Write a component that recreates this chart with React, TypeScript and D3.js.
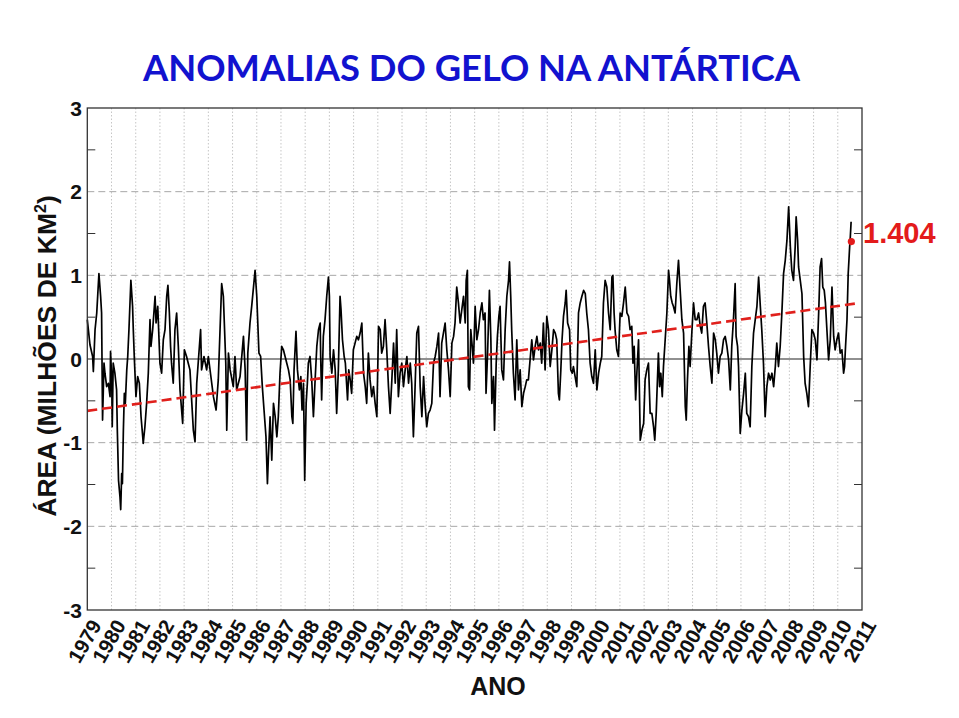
import * as d3 from "d3";

// leituras aproximadas da figura: [ano decimal, anomalia em milhões de km²]
const gelo1979a1986: [number, number][] = [
  [1979.0, 0.47], [1979.11, 0.17], [1979.22, 0.03], [1979.25, -0.15], [1979.32, 0.35], [1979.39, 0.55],
  [1979.48, 1.02], [1979.55, 0.75], [1979.59, 0.55], [1979.63, -0.73], [1979.69, -0.05], [1979.73, -0.17],
  [1979.8, -0.33], [1979.87, -0.29], [1979.94, -0.45], [1979.96, 0.09], [1980.01, -0.25], [1980.03, -0.81],
  [1980.07, -0.05], [1980.14, -0.17], [1980.21, -0.37], [1980.24, -0.85], [1980.29, -1.45], [1980.35, -1.65],
  [1980.38, -1.8], [1980.42, -1.37], [1980.45, -1.49], [1980.49, -0.85], [1980.53, -0.41], [1980.57, -0.53],
  [1980.63, -0.13], [1980.67, 0.03], [1980.72, 0.35], [1980.8, 0.94], [1980.87, 0.63], [1980.9, 0.35],
  [1980.94, 0.03], [1981.01, -0.45], [1981.08, -0.21], [1981.15, -0.29], [1981.22, -0.69], [1981.29, -0.93],
  [1981.31, -1.01], [1981.38, -0.81], [1981.45, -0.53], [1981.52, -0.17], [1981.59, 0.47], [1981.63, 0.15],
  [1981.7, 0.35], [1981.8, 0.75], [1981.84, 0.43], [1981.91, 0.63], [1982.0, -0.05], [1982.07, -0.17],
  [1982.14, 0.23], [1982.21, 0.35], [1982.28, 0.75], [1982.33, 0.88], [1982.39, 0.55], [1982.44, 0.15],
  [1982.48, -0.05], [1982.55, -0.29], [1982.62, 0.35], [1982.69, 0.55], [1982.76, 0.15], [1982.83, -0.37],
  [1982.94, -0.77], [1983.01, 0.11], [1983.1, 0.03], [1983.17, -0.05], [1983.24, -0.13], [1983.38, -0.85],
  [1983.45, -0.99], [1983.52, -0.29], [1983.68, 0.35], [1983.72, -0.13], [1983.82, 0.03], [1983.93, -0.13],
  [1984.0, 0.03], [1984.14, -0.29], [1984.21, -0.45], [1984.32, -0.61], [1984.41, -0.25], [1984.55, 0.9],
  [1984.62, 0.75], [1984.72, -0.05], [1984.76, -0.85], [1984.83, 0.07], [1984.9, -0.13], [1985.03, -0.33],
  [1985.1, 0.03], [1985.17, -0.37], [1985.31, -0.21], [1985.45, 0.27], [1985.52, -0.13], [1985.58, -0.97],
  [1985.63, 0.07], [1985.72, 0.43], [1985.79, 0.63], [1985.93, 1.06], [1986.0, 0.75], [1986.09, 0.07],
  [1986.16, 0.03], [1986.23, -0.33], [1986.3, -0.61], [1986.38, -0.93], [1986.44, -1.49], [1986.48, -1.17],
  [1986.55, -0.69],
];

const gelo1986a1994: [number, number][] = [
  [1986.62, -1.21], [1986.69, -0.53], [1986.76, -0.69], [1986.83, -0.93], [1986.89, -0.69], [1986.96, -0.17],
  [1987.03, 0.15], [1987.1, 0.11], [1987.17, 0.03], [1987.24, -0.05], [1987.31, -0.13], [1987.38, -0.25],
  [1987.45, -0.69], [1987.49, -0.77], [1987.54, -0.13], [1987.62, 0.33], [1987.68, -0.13], [1987.76, -0.37],
  [1987.82, -0.21], [1987.87, -0.61], [1987.93, -0.29], [1987.98, -1.45], [1988.04, -0.53], [1988.09, -0.29],
  [1988.13, -0.05], [1988.2, 0.03], [1988.27, -0.25], [1988.34, -0.69], [1988.41, -0.25], [1988.48, 0.15],
  [1988.55, 0.35], [1988.62, 0.43], [1988.64, 0.03], [1988.68, -0.49], [1988.75, 0.27], [1988.82, 0.47],
  [1988.89, 0.75], [1988.96, 0.98], [1989.0, 0.75], [1989.03, 0.03], [1989.1, -0.17], [1989.17, 0.11],
  [1989.24, -0.13], [1989.3, -0.65], [1989.37, -0.13], [1989.44, 0.75], [1989.48, 0.59], [1989.54, 0.23],
  [1989.61, 0.03], [1989.66, -0.05], [1989.75, -0.49], [1989.8, -0.13], [1989.86, -0.25], [1989.92, -0.41],
  [1989.99, 0.11], [1990.06, 0.19], [1990.13, 0.27], [1990.2, 0.23], [1990.27, 0.31], [1990.34, 0.43],
  [1990.41, -0.17], [1990.48, -0.33], [1990.54, -0.53], [1990.61, 0.07], [1990.68, -0.25], [1990.75, -0.45],
  [1990.82, -0.33], [1990.89, -0.53], [1990.96, -0.69], [1991.03, 0.39], [1991.1, 0.35], [1991.16, 0.07],
  [1991.23, 0.15], [1991.3, 0.47], [1991.37, 0.11], [1991.44, -0.33], [1991.51, -0.65], [1991.58, -0.25],
  [1991.65, 0.19], [1991.72, -0.29], [1991.78, 0.35], [1991.85, -0.45], [1991.92, -0.17], [1991.99, -0.05],
  [1992.06, -0.33], [1992.13, -0.13], [1992.2, 0.03], [1992.27, -0.29], [1992.34, -0.05], [1992.4, -0.29],
  [1992.47, -0.93], [1992.54, -0.33], [1992.61, 0.31], [1992.68, 0.39], [1992.75, -0.33], [1992.82, -0.69],
  [1992.89, -0.21], [1992.95, -0.53], [1993.02, -0.81], [1993.09, -0.65], [1993.16, -0.61], [1993.23, -0.53],
  [1993.3, -0.05], [1993.37, 0.03], [1993.44, 0.15], [1993.51, 0.31], [1993.57, -0.45], [1993.64, 0.19],
  [1993.71, 0.31], [1993.78, 0.43], [1993.85, 0.11], [1993.92, -0.13], [1993.99, -0.45], [1994.06, 0.19],
  [1994.13, 0.27], [1994.19, 0.43], [1994.26, 0.86], [1994.33, 0.67], [1994.4, 0.43],
];

const gelo1994a2002: [number, number][] = [
  [1994.47, 0.59], [1994.54, 0.75], [1994.61, 0.43], [1994.65, 0.94], [1994.7, 1.06], [1994.74, -0.33],
  [1994.79, -0.37], [1994.84, 0.35], [1994.9, 0.15], [1994.95, -0.05], [1995.02, 0.63], [1995.09, 0.23],
  [1995.16, 0.35], [1995.23, 0.55], [1995.3, 0.67], [1995.36, 0.47], [1995.43, 0.55], [1995.47, -0.41],
  [1995.53, 0.03], [1995.61, 0.82], [1995.67, 0.23], [1995.71, -0.53], [1995.78, -0.21], [1995.82, -0.85],
  [1995.89, -0.05], [1995.94, 0.27], [1996.0, 0.51], [1996.05, 0.63], [1996.12, -0.13], [1996.19, -0.25],
  [1996.26, 0.35], [1996.33, 0.75], [1996.4, 0.94], [1996.44, 1.16], [1996.49, 0.75], [1996.53, 0.35],
  [1996.6, -0.17], [1996.67, -0.49], [1996.74, 0.23], [1996.81, -0.37], [1996.88, -0.13], [1996.95, -0.57],
  [1997.02, -0.41], [1997.09, -0.33], [1997.15, -0.25], [1997.22, -0.25], [1997.29, -0.01], [1997.36, 0.23],
  [1997.43, -0.01], [1997.5, 0.15], [1997.57, 0.27], [1997.64, 0.11], [1997.71, 0.19], [1997.77, -0.05],
  [1997.84, 0.43], [1997.91, -0.13], [1997.98, 0.51], [1998.05, 0.35], [1998.12, -0.09], [1998.19, 0.11],
  [1998.26, 0.35], [1998.33, 0.31], [1998.39, 0.23], [1998.46, -0.41], [1998.5, -0.49], [1998.56, -0.13],
  [1998.61, 0.23], [1998.67, 0.51], [1998.74, 0.67], [1998.78, 0.82], [1998.84, 0.43], [1998.92, 0.35],
  [1998.97, -0.13], [1999.03, -0.17], [1999.08, -0.09], [1999.15, -0.21], [1999.22, -0.33], [1999.29, 0.55],
  [1999.36, 0.67], [1999.43, 0.75], [1999.5, 0.82], [1999.57, 0.78], [1999.63, 0.55], [1999.7, 0.35],
  [1999.77, -0.05], [1999.84, -0.21], [1999.91, -0.29], [1999.98, 0.11], [2000.05, -0.37], [2000.12, -0.17],
  [2000.19, -0.05], [2000.25, 0.03], [2000.32, 0.67], [2000.39, 0.94], [2000.46, 0.86], [2000.53, 0.55],
  [2000.6, 0.35], [2000.67, 0.98], [2000.71, 1.0], [2000.76, 0.55], [2000.8, 0.35], [2000.87, 0.11],
  [2000.94, 0.03], [2001.01, 0.55], [2001.08, 0.51], [2001.15, 0.67], [2001.22, 0.86], [2001.29, 0.55],
  [2001.36, 0.51], [2001.42, 0.35], [2001.49, 0.39], [2001.54, -0.05], [2001.59, 0.15], [2001.65, -0.49],
  [2001.7, -0.17], [2001.77, 0.23], [2001.84, -0.97], [2001.91, -0.85], [2001.98, -0.77], [2002.04, -0.25],
  [2002.11, -0.13], [2002.18, -0.05], [2002.25, -0.65],
];

const gelo2002a2010: [number, number][] = [
  [2002.32, -0.65], [2002.39, -0.81], [2002.44, -0.97], [2002.5, -0.65], [2002.55, -0.25], [2002.59, 0.07],
  [2002.64, -0.33], [2002.69, -0.17], [2002.75, -0.45], [2002.8, -0.09], [2002.87, 0.23], [2002.94, 0.55],
  [2003.01, 1.06], [2003.05, 0.94], [2003.1, 0.75], [2003.16, 0.67], [2003.21, 0.63], [2003.28, 0.55],
  [2003.35, 0.9], [2003.42, 1.18], [2003.49, 0.82], [2003.56, 0.47], [2003.63, 0.31], [2003.7, -0.57],
  [2003.74, -0.73], [2003.79, -0.25], [2003.85, 0.15], [2003.9, -0.09], [2003.97, 0.31], [2004.04, 0.67],
  [2004.11, 0.47], [2004.18, 0.47], [2004.25, 0.55], [2004.32, 0.39], [2004.38, 0.31], [2004.45, 0.63],
  [2004.52, 0.67], [2004.59, 0.43], [2004.66, 0.15], [2004.73, -0.09], [2004.8, -0.29], [2004.87, 0.31],
  [2004.94, 0.23], [2005.0, 0.07], [2005.07, -0.17], [2005.14, 0.03], [2005.21, 0.07], [2005.28, 0.23],
  [2005.35, 0.27], [2005.42, 0.15], [2005.49, -0.01], [2005.56, -0.37], [2005.62, 0.15], [2005.69, 0.47],
  [2005.76, 0.9], [2005.8, 0.27], [2005.86, 0.15], [2005.9, -0.09], [2005.97, -0.89], [2006.04, -0.61],
  [2006.11, -0.41], [2006.18, -0.17], [2006.24, -0.65], [2006.31, -0.69], [2006.38, -0.81], [2006.45, -0.09],
  [2006.52, 0.31], [2006.59, 0.47], [2006.66, 0.63], [2006.73, 0.98], [2006.8, 0.63], [2006.86, 0.35],
  [2006.93, -0.05], [2007.0, -0.69], [2007.07, -0.33], [2007.14, -0.17], [2007.21, -0.25], [2007.28, -0.17],
  [2007.35, -0.33], [2007.42, -0.09], [2007.48, 0.19], [2007.55, -0.09], [2007.62, 0.15], [2007.69, 0.55],
  [2007.76, 1.02], [2007.83, 1.18], [2007.9, 1.42], [2007.97, 1.82], [2008.04, 1.34], [2008.1, 1.06],
  [2008.17, 0.94], [2008.24, 1.34], [2008.28, 1.7], [2008.34, 1.42], [2008.38, 1.1], [2008.45, 0.94],
  [2008.52, 0.78], [2008.59, 0.03], [2008.65, -0.29], [2008.72, -0.41], [2008.79, -0.57], [2008.86, -0.09],
  [2008.93, 0.35], [2009.0, 0.31], [2009.07, 0.23], [2009.14, -0.01], [2009.21, 0.55], [2009.27, 1.1],
  [2009.33, 1.2], [2009.38, 0.86], [2009.44, 0.82], [2009.49, 0.67], [2009.55, 0.35], [2009.62, -0.01],
  [2009.69, 0.23], [2009.76, 0.86], [2009.83, 0.27], [2009.89, 0.11], [2009.96, 0.23], [2010.03, 0.31],
  [2010.1, 0.07], [2010.17, 0.11], [2010.24, -0.17], [2010.28, -0.09], [2010.32, 0.15], [2010.38, 0.47],
  [2010.43, 1.02], [2010.49, 1.34], [2010.51, 1.42], [2010.55, 1.64],
];

const tendenciaAnos = [1979, 2010.9];
const tendenciaValores = [-0.62, 0.67];

const destaqueAno = 2010.56;
const destaqueValor = 1.404;

const anos = d3.range(1979, 2012);
const yTicks = [3, 2, 1, 0, -1, -2, -3];
const yMinor = [2.5, 1.5, 0.5, -0.5, -1.5, -2.5];

const W = 959;
const H = 718;
const plot = { left: 87.3, right: 862, top: 108, bottom: 610 };
const AXIS_FONT = "'Liberation Sans', Arial, sans-serif";

export default function App() {
  const x = d3.scaleLinear().domain([1979, 2011]).range([plot.left, plot.right]);
  const y = d3.scaleLinear().domain([-3, 3]).range([plot.bottom, plot.top]);

  const serie = [...gelo1979a1986, ...gelo1986a1994, ...gelo1994a2002, ...gelo2002a2010];
  const linha = d3
    .line<[number, number]>()
    .x((d) => x(d[0]))
    .y((d) => y(d[1]));

  const tendencia = tendenciaAnos.map((a, i) => [a, tendenciaValores[i]] as [number, number]);

  return (
    <svg
      width={W}
      height={H}
      viewBox={`0 0 ${W} ${H}`}
      style={{ position: "absolute", left: 0, top: 0, background: "#fff" }}
    >
      <text
        x={143}
        y={81}
        fontFamily="Lato, 'Open Sans', sans-serif"
        fontWeight="700"
        fontSize="36.5"
        fill="#1212cf"
        textLength={657}
        lengthAdjust="spacingAndGlyphs"
      >
        ANOMALIAS DO GELO NA ANTÁRTICA
      </text>

      {/* grade vertical pontilhada, um traço por ano */}
      {anos.slice(1, -1).map((a) => (
        <line
          key={"gx" + a}
          x1={x(a)}
          x2={x(a)}
          y1={plot.top}
          y2={plot.bottom}
          stroke="#b8b8b8"
          strokeWidth="0.8"
          strokeDasharray="1.5,2"
        />
      ))}

      {/* grade horizontal tracejada */}
      {yTicks
        .filter((t) => t !== 0 && Math.abs(t) !== 3)
        .map((t) => (
          <line
            key={"gy" + t}
            x1={plot.left}
            x2={plot.right}
            y1={y(t)}
            y2={y(t)}
            stroke="#a8a8a8"
            strokeWidth="1"
            strokeDasharray="7,4"
          />
        ))}

      {/* marcas menores nos dois eixos */}
      {yMinor.map((t) => (
        <g key={"m" + t} stroke="#333" strokeWidth="1">
          <line x1={plot.left} x2={plot.left + 8} y1={y(t)} y2={y(t)} />
          <line x1={plot.right - 8} x2={plot.right} y1={y(t)} y2={y(t)} />
        </g>
      ))}

      <line x1={plot.left} x2={plot.right} y1={y(0)} y2={y(0)} stroke="#222" strokeWidth="1.2" />

      <path d={linha(serie) ?? ""} fill="none" stroke="#000" strokeWidth="1.7" strokeLinejoin="round" />

      <path
        d={linha(tendencia) ?? ""}
        fill="none"
        stroke="#e0201c"
        strokeWidth="2.6"
        strokeDasharray="10,5"
      />

      <rect
        x={plot.left}
        y={plot.top}
        width={plot.right - plot.left}
        height={plot.bottom - plot.top}
        fill="none"
        stroke="#333"
        strokeWidth="1.3"
      />

      <circle cx={x(destaqueAno)} cy={y(destaqueValor)} r={3.6} fill="#e31b1b" />
      <text
        x={863}
        y={y(destaqueValor) + 1.5}
        fontFamily={AXIS_FONT}
        fontWeight="700"
        fontSize="29"
        fill="#e31b1b"
      >
        {destaqueValor.toFixed(3)}
      </text>

      {yTicks.map((t) => (
        <text
          key={"ty" + t}
          x={82}
          y={y(t) + 7.5}
          textAnchor="end"
          fontFamily={AXIS_FONT}
          fontWeight="700"
          fontSize="21"
          fill="#111"
        >
          {t}
        </text>
      ))}

      {anos.map((a) => (
        <text
          key={"tx" + a}
          transform={`translate(${x(a) + 15}, 625) rotate(-60)`}
          textAnchor="end"
          fontFamily={AXIS_FONT}
          fontWeight="700"
          fontSize="20.5"
          fill="#111"
        >
          {a}
        </text>
      ))}

      <text
        x={498}
        y={695}
        textAnchor="middle"
        fontFamily={AXIS_FONT}
        fontWeight="700"
        fontSize="25"
        fill="#111"
      >
        ANO
      </text>

      <text
        transform="translate(56, 356) rotate(-90)"
        textAnchor="middle"
        fontFamily={AXIS_FONT}
        fontWeight="700"
        fontSize="26.5"
        fill="#111"
      >
        ÁREA (MILHÕES DE KM<tspan fontSize="16" dy="-10">2</tspan>
        <tspan dy="10">)</tspan>
      </text>
    </svg>
  );
}
